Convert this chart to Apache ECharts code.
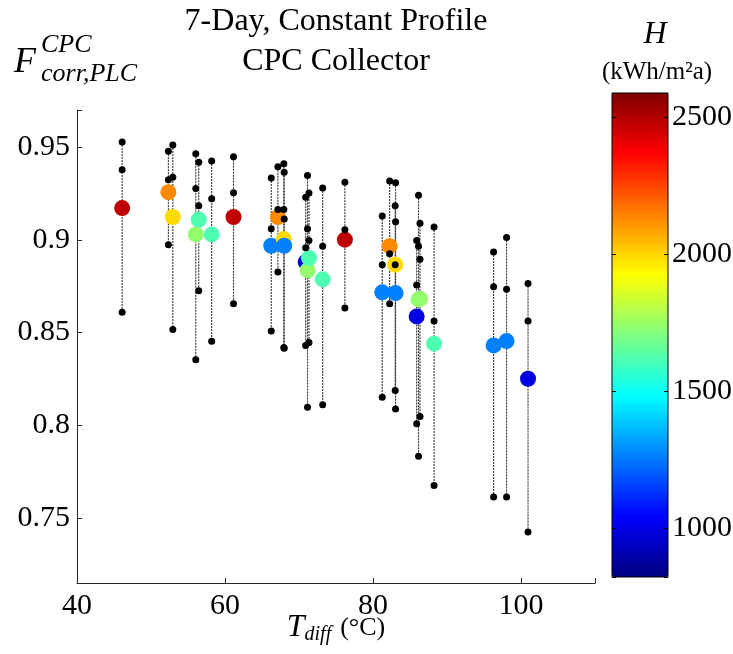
<!DOCTYPE html>
<html><head><meta charset="utf-8">
<script src="https://cdn.jsdelivr.net/npm/echarts@6/dist/echarts.min.js"></script>
<style>html,body{margin:0;padding:0;background:#fff}#c{width:733px;height:654px}</style>
</head><body><div id="c"></div>
<script>
// ---- data ----
const tdiff   = [46.1, 52.35, 52.95, 56.05, 56.45, 58.2, 61.15, 66.25, 67.15, 67.95, 68.0, 70.9, 71.15, 71.35, 73.2, 76.2, 81.25, 82.25, 83.0, 83.05, 85.9, 86.15, 86.35, 88.25, 96.3, 98.05, 100.95];
const fTop    = [0.9527, 0.9478, 0.9511, 0.9464, 0.9418, 0.9425, 0.9448, 0.9333, 0.9394, 0.9410, 0.9364, 0.9230, 0.9347, 0.9252, 0.9279, 0.9310, 0.9128, 0.9317, 0.9184, 0.9308, 0.8997, 0.9240, 0.9090, 0.9069, 0.8934, 0.9013, 0.8764];
const fMid    = [0.9378, 0.9324, 0.9338, 0.9277, 0.9184, 0.9222, 0.9254, 0.9060, 0.9163, 0.9163, 0.9112, 0.8958, 0.9060, 0.8997, 0.8966, 0.9055, 0.8866, 0.8925, 0.8866, 0.9098, 0.8756, 0.8965, 0.8896, 0.8562, 0.8747, 0.8733, 0.8562];
const fBot    = [0.8609, 0.8974, 0.8516, 0.8354, 0.8726, 0.8453, 0.8656, 0.8508, 0.8826, 0.8420, 0.8415, 0.8431, 0.8098, 0.8446, 0.8111, 0.8632, 0.8151, 0.8656, 0.8188, 0.8088, 0.8009, 0.7833, 0.8048, 0.7676, 0.7613, 0.7613, 0.7425];
const fCentre = [0.9171, 0.9257, 0.9123, 0.9029, 0.9109, 0.9029, 0.9123, 0.8968, 0.9123, 0.9004, 0.8968, 0.8880, 0.8835, 0.8902, 0.8787, 0.9001, 0.8717, 0.8966, 0.8866, 0.8713, 0.8587, 0.8679, 0.8682, 0.8440, 0.8431, 0.8454, 0.8251];
const irradH  = [2480, 2130, 1990, 1740, 1620, 1620, 2480, 1260, 2130, 1990, 1260, 990, 1740, 1620, 1620, 2480, 1260, 2130, 1990, 1260, 990, 1740, 1740, 1620, 1260, 1260, 990];
const xTicks = [40, 60, 80, 100];
const yTicks = [0.75, 0.8, 0.85, 0.9, 0.95];
const hTicks = [1000, 1500, 2000, 2500];
const hRange = [820, 2590];
const jet = ['#000080','#0000ff','#0080ff','#00ffff','#80ff80','#ffff00','#ff8000','#ff0000','#800000'];

const FONT = '"Liberation Serif", "Times New Roman", serif';
const AX = '#262626';

const rangeData = tdiff.map((t, i) => [t, Math.max(fTop[i], fMid[i], fBot[i]), Math.min(fTop[i], fMid[i], fBot[i])]);
const dotData = [];
tdiff.forEach((t, i) => { dotData.push([t, fTop[i]], [t, fMid[i]], [t, fBot[i]]); });
const centreData = tdiff.map((t, i) => [t, fCentre[i], irradH[i]]);

const isTick = (arr, v) => arr.some(t => Math.abs(t - v) < 1e-9);

const chart = echarts.init(document.getElementById('c'), null, {renderer: 'canvas'});
chart.setOption({
  animation: false,
  backgroundColor: '#fff',
  textStyle: {fontFamily: FONT},
  grid: [
    {left: 77, top: 110, width: 518, height: 473, outerBoundsMode: 'none'},
    {left: 612, top: 93, width: 56, height: 484, show: true, borderColor: '#000', borderWidth: 1, backgroundColor: 'transparent', z: 10, outerBoundsMode: 'none'}
  ],
  xAxis: [
    {gridIndex: 0, type: 'value', min: 40, max: 110, interval: 20,
     axisLine: {show: true, lineStyle: {color: AX, width: 1}},
     axisTick: {show: true, inside: true, length: 5, lineStyle: {color: AX}},
     splitLine: {show: false},
     axisLabel: {color: '#000', fontSize: 30, fontFamily: FONT, margin: 8,
       formatter: v => isTick(xTicks, v) ? String(v) : ''}},
    {gridIndex: 1, type: 'value', min: 0, max: 1, show: false}
  ],
  yAxis: [
    {gridIndex: 0, type: 'value', min: 0.715, max: 0.97, splitNumber: 5,
     axisLine: {show: true, lineStyle: {color: AX, width: 1}},
     axisTick: {show: true, inside: true, length: 5, lineStyle: {color: AX}},
     splitLine: {show: false},
     axisLabel: {color: '#000', fontSize: 30, fontFamily: FONT, margin: 7,
       formatter: v => isTick(yTicks, v) ? String(+v.toFixed(2)) : ''}},
    {gridIndex: 1, type: 'value', min: hRange[0], max: hRange[1], splitNumber: 4, position: 'left', z: 10,
     axisLine: {show: false}, splitLine: {show: false}, axisLabel: {show: false},
     axisTick: {show: true, inside: true, length: 4, lineStyle: {color: '#000'}}},
    {gridIndex: 1, type: 'value', min: hRange[0], max: hRange[1], splitNumber: 4, position: 'right', z: 10,
     axisLine: {show: false}, splitLine: {show: false},
     axisTick: {show: true, inside: true, length: 4, lineStyle: {color: '#000'}},
     axisLabel: {color: '#000', fontSize: 30, fontFamily: FONT, margin: 4,
       formatter: v => isTick(hTicks, v) ? String(v) : ''}}
  ],
  visualMap: {
    type: 'continuous', min: hRange[0], max: hRange[1], dimension: 2, seriesIndex: 1,
    left: 612, top: 93, itemWidth: 56, itemHeight: 484, padding: 0,
    calculable: false, hoverLink: false, text: null, showLabel: false,
    inRange: {color: jet}
  },
  series: [
    {type: 'custom', xAxisIndex: 0, yAxisIndex: 0, z: 1, silent: true,
     data: rangeData, encode: {x: 0, y: [1, 2]},
     renderItem: (params, api) => {
       const p1 = api.coord([api.value(0), api.value(1)]);
       const p2 = api.coord([api.value(0), api.value(2)]);
       return {type: 'line', shape: {x1: p1[0], y1: p1[1], x2: p2[0], y2: p2[1]},
               style: {stroke: '#333', lineWidth: 1.1, lineDash: [2, 1]}};
     }},
    {type: 'scatter', xAxisIndex: 0, yAxisIndex: 0, z: 2, silent: true,
     symbol: 'circle', symbolSize: 16, data: centreData, encode: {x: 0, y: 1},
     itemStyle: {opacity: 1}},
    {type: 'scatter', xAxisIndex: 0, yAxisIndex: 0, z: 3, silent: true,
     symbol: 'circle', symbolSize: 7, data: dotData,
     itemStyle: {color: '#000', opacity: 1}}
  ],
  graphic: [
    {type: 'text', x: 336, y: 22, z: 20, style: {text: '7-Day, Constant Profile', font: '32px ' + FONT, fill: '#000', align: 'center', verticalAlign: 'middle'}},
    {type: 'text', x: 336, y: 62, z: 20, style: {text: 'CPC Collector', font: '32px ' + FONT, fill: '#000', align: 'center', verticalAlign: 'middle'}},
    {type: 'text', x: 14, y: 81, z: 20, style: {text: 'F', font: 'italic 36px ' + FONT, fill: '#000', verticalAlign: 'bottom'}},
    {type: 'text', x: 41, y: 58, z: 20, style: {text: 'CPC', font: 'italic 26px ' + FONT, fill: '#000', verticalAlign: 'bottom'}},
    {type: 'text', x: 41, y: 87, z: 20, style: {text: 'corr,PLC', font: 'italic 26px ' + FONT, fill: '#000', verticalAlign: 'bottom'}},
    {type: 'text', x: 336, y: 628, z: 20, style: {
      text: '{t|T}{s|diff}{u|(°C)}', align: 'center', verticalAlign: 'middle', fill: '#000',
      rich: {t: {font: 'italic 32px ' + FONT, fill: '#000'},
             s: {font: 'italic 20px ' + FONT, fill: '#000', verticalAlign: 'bottom', padding: [14, 0, 0, 0]},
             u: {font: '26px ' + FONT, fill: '#000', padding: [0, 0, 0, 9]}}}},
    {type: 'text', x: 655, y: 35, z: 20, style: {text: 'H', font: 'italic 32px ' + FONT, fill: '#000', align: 'center', verticalAlign: 'middle'}},
    {type: 'text', x: 657, y: 72, z: 20, style: {text: '(kWh/m²a)', font: '25px ' + FONT, fill: '#000', align: 'center', verticalAlign: 'middle'}}
  ]
});
</script></body></html>
